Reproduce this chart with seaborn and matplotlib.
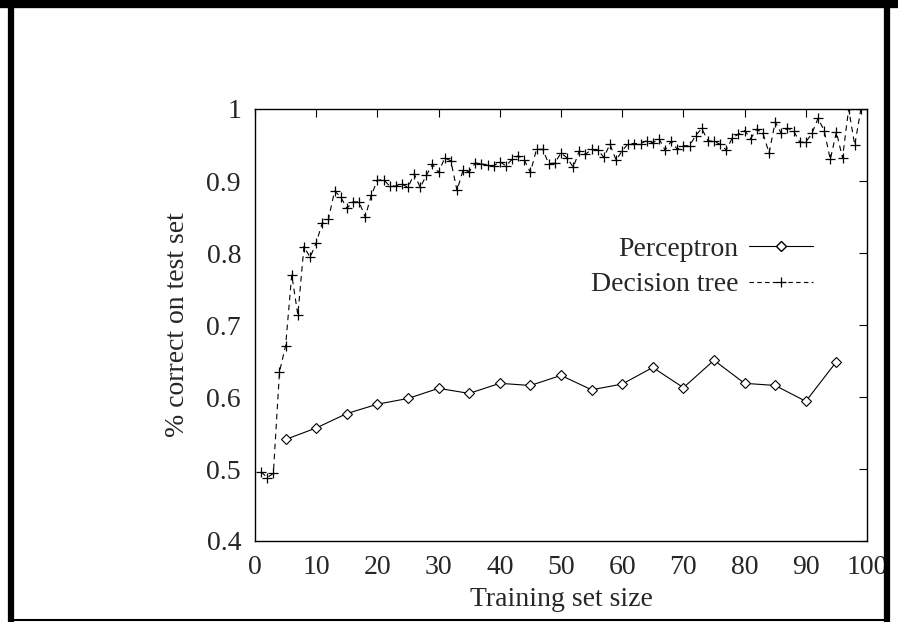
import numpy as np
import pandas as pd
import matplotlib
matplotlib.use('Agg')
import matplotlib.pyplot as plt
from matplotlib.lines import Line2D
import seaborn as sns

# Perceptron: every 5 examples
perceptron_x = [5, 10, 15, 20, 25, 30, 35, 40, 45, 50, 55, 60, 65, 70, 75, 80, 85, 90, 95]
perceptron_y = [0.541, 0.557, 0.577, 0.590, 0.598, 0.612, 0.605, 0.619, 0.616, 0.630,
                0.610, 0.618, 0.641, 0.613, 0.651, 0.619, 0.616, 0.594, 0.649]

# Decision tree: training set sizes 1..99
tree_x = list(range(1, 100))
tree_y = [0.496, 0.488, 0.494, 0.635, 0.671, 0.770, 0.714, 0.809, 0.794, 0.814,
          0.842, 0.847, 0.886, 0.878, 0.862, 0.871, 0.871, 0.850, 0.880, 0.901,
          0.902, 0.893, 0.893, 0.896, 0.891, 0.910, 0.891, 0.908, 0.923, 0.912,
          0.932, 0.928, 0.887, 0.915, 0.913, 0.925, 0.924, 0.922, 0.921, 0.927,
          0.921, 0.930, 0.935, 0.929, 0.912, 0.944, 0.944, 0.924, 0.925, 0.939,
          0.932, 0.919, 0.942, 0.937, 0.944, 0.943, 0.933, 0.951, 0.929, 0.942,
          0.952, 0.952, 0.952, 0.956, 0.953, 0.959, 0.943, 0.955, 0.944, 0.949,
          0.949, 0.963, 0.973, 0.956, 0.955, 0.951, 0.943, 0.960, 0.965, 0.970,
          0.959, 0.972, 0.966, 0.939, 0.982, 0.966, 0.973, 0.970, 0.954, 0.954,
          0.966, 0.987, 0.970, 0.930, 0.968, 0.932, 1.000, 0.950, 1.000]

x_ticks = [0, 10, 20, 30, 40, 50, 60, 70, 80, 90, 100]
y_ticks = [0.4, 0.5, 0.6, 0.7, 0.8, 0.9, 1.0]
y_tick_labels = ['0.4', '0.5', '0.6', '0.7', '0.8', '0.9', '1']

sns.set_theme(style='white')
plt.rcParams['font.family'] = ['Liberation Serif', 'DejaVu Serif']

perc_df = pd.DataFrame({'size': perceptron_x, 'acc': perceptron_y})
tree_df = pd.DataFrame({'size': tree_x, 'acc': tree_y})

fig = plt.figure(figsize=(8.98, 6.22), dpi=100)
ax = fig.add_axes([255 / 898, 1 - 541 / 622, 612 / 898, 432 / 622])

sns.lineplot(data=perc_df, x='size', y='acc', ax=ax, color='black', linewidth=0.8,
             marker='D', markersize=5, markerfacecolor='white',
             markeredgecolor='black', markeredgewidth=0.8)
sns.lineplot(data=tree_df, x='size', y='acc', ax=ax, color='black', linewidth=0.8,
             linestyle=(0, (5, 4)), marker='+', markersize=7,
             markeredgewidth=0.9, markeredgecolor='black')

ax.set_xlim(0, 100)
ax.set_ylim(0.4, 1.0)
ax.set_xticks(x_ticks)
ax.set_yticks(y_ticks)
ax.set_yticklabels(y_tick_labels)
ax.tick_params(direction='in', length=6, width=0.8, labelsize=20, color='black',
               top=True, right=True, pad=10)
for spine in ax.spines.values():
    spine.set_color('black')
    spine.set_linewidth(1.0)

ax.set_xlabel('Training set size', fontsize=20, labelpad=5)
ax.set_ylabel('% correct on test set', fontsize=20, labelpad=12)

handles = [
    Line2D([], [], color='black', linewidth=0.8, marker='D', markersize=5,
           markerfacecolor='white', markeredgecolor='black'),
    Line2D([], [], color='black', linewidth=0.8, linestyle=(0, (4, 3)), marker='+',
           markersize=7, markeredgewidth=0.9),
]
ax.legend(handles, ['Perceptron', 'Decision tree'], loc='upper right',
          bbox_to_anchor=(0.93, 0.73), frameon=False, markerfirst=False,
          fontsize=20, handlelength=2.3, handletextpad=0.4, labelspacing=0.35,
          borderaxespad=0)

# Outer frame around the whole picture
fig.add_artist(Line2D([0, 1], [1 - 4 / 622, 1 - 4 / 622], color='black', linewidth=6,
                      transform=fig.transFigure))
fig.add_artist(Line2D([11 / 898, 11 / 898], [0, 1], color='black', linewidth=4.5,
                      transform=fig.transFigure))
fig.add_artist(Line2D([887 / 898, 887 / 898], [0, 1], color='black', linewidth=4.5,
                      transform=fig.transFigure))
fig.add_artist(Line2D([11 / 898, 887 / 898], [2 / 622, 2 / 622], color='black', linewidth=1.5,
                      transform=fig.transFigure))

fig.savefig('out.png', dpi=100, facecolor='white')
